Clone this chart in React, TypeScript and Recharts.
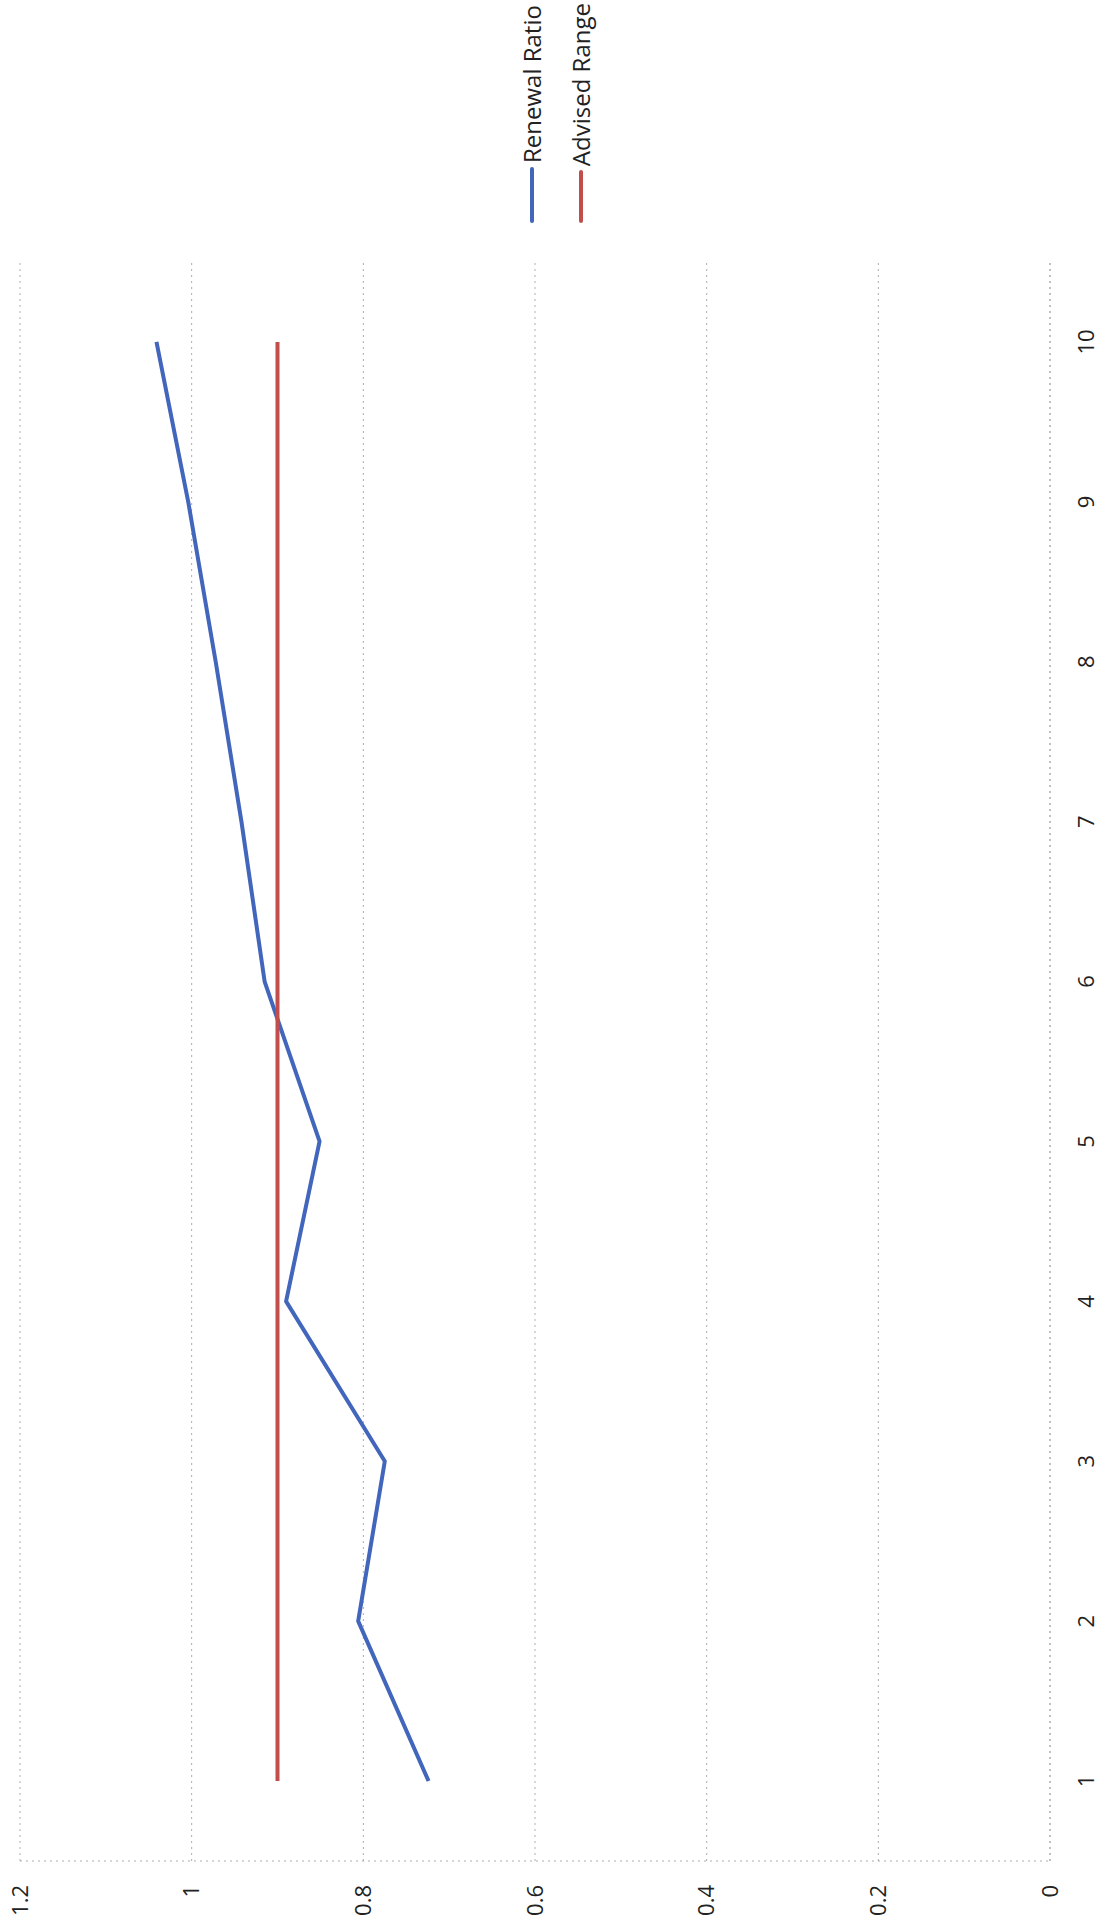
import React from 'react';
import { LineChart, Line, XAxis, YAxis, CartesianGrid, Legend } from 'recharts';

const categories = [1, 2, 3, 4, 5, 6, 7, 8, 9, 10];
const renewalRatio = [0.724, 0.806, 0.775, 0.89, 0.851, 0.915, 0.942, 0.972, 1.004, 1.041];
const advisedRange = [0.9, 0.9, 0.9, 0.9, 0.9, 0.9, 0.9, 0.9, 0.9, 0.9];
const valueTicks = [0, 0.2, 0.4, 0.6, 0.8, 1, 1.2];
const seriesNames = ['Renewal Ratio', 'Advised Range'];
const seriesColors = ['#4266BC', '#C24E4B'];

const data = categories.map((c, i) => ({
  cat: c,
  renewal: renewalRatio[i],
  advised: advisedRange[i],
}));

const FONT = '"Open Sans", sans-serif';
const GRID = '#a9adb0';

const LegendContent = () => (
  <div style={{ fontFamily: FONT, fontSize: 24, color: '#222' }}>
    {seriesNames.map((n, i) => (
      <div key={n} style={{ height: 49, display: 'flex', alignItems: 'center' }}>
        <div style={{ width: 56, height: 4, background: seriesColors[i], borderRadius: 2 }} />
        <span style={{ marginLeft: 4, whiteSpace: 'nowrap', lineHeight: '49px' }}>{n}</span>
      </div>
    ))}
  </div>
);

export default function App() {
  return (
    <div style={{ position: 'absolute', left: 0, top: 0, width: 1110, height: 1931, overflow: 'hidden', background: '#fff' }}>
      <div
        style={{
          position: 'absolute',
          left: 0,
          top: 0,
          width: 1931,
          height: 1110,
          transformOrigin: '0 0',
          transform: 'translateY(1931px) rotate(-90deg)',
        }}
      >
        <LineChart
          width={1931}
          height={1110}
          data={data}
          margin={{ top: 20, right: 262, bottom: 0, left: 0 }}
        >
          <CartesianGrid vertical={false} stroke={GRID} strokeDasharray="2 4" />
          <XAxis
            dataKey="cat"
            type="number"
            domain={[0.5, 10.5]}
            ticks={categories}
            height={60}
            tickLine={false}
            tickSize={0}
            tickMargin={28}
            axisLine={{ stroke: GRID, strokeDasharray: '2 4' }}
            tick={{ fill: '#222', fontSize: 22, fontFamily: FONT }}
          />
          <YAxis
            type="number"
            domain={[0, 1.2]}
            ticks={valueTicks}
            width={70}
            tickLine={false}
            tickSize={0}
            tickMargin={24}
            axisLine={{ stroke: GRID, strokeDasharray: '2 4' }}
            tick={{ fill: '#222', fontSize: 22, fontFamily: FONT }}
          />
          <Line
            dataKey="renewal"
            name={seriesNames[0]}
            stroke={seriesColors[0]}
            strokeWidth={4}
            dot={false}
            isAnimationActive={false}
            strokeLinejoin="round"
          />
          <Line
            dataKey="advised"
            name={seriesNames[1]}
            stroke={seriesColors[1]}
            strokeWidth={4}
            dot={false}
            isAnimationActive={false}
          />
          <Legend
            layout="vertical"
            align="center"
            verticalAlign="middle"
            content={<LegendContent />}
            wrapperStyle={{ position: 'absolute', left: 1708, top: 507, width: 220 }}
          />
        </LineChart>
      </div>
    </div>
  );
}
